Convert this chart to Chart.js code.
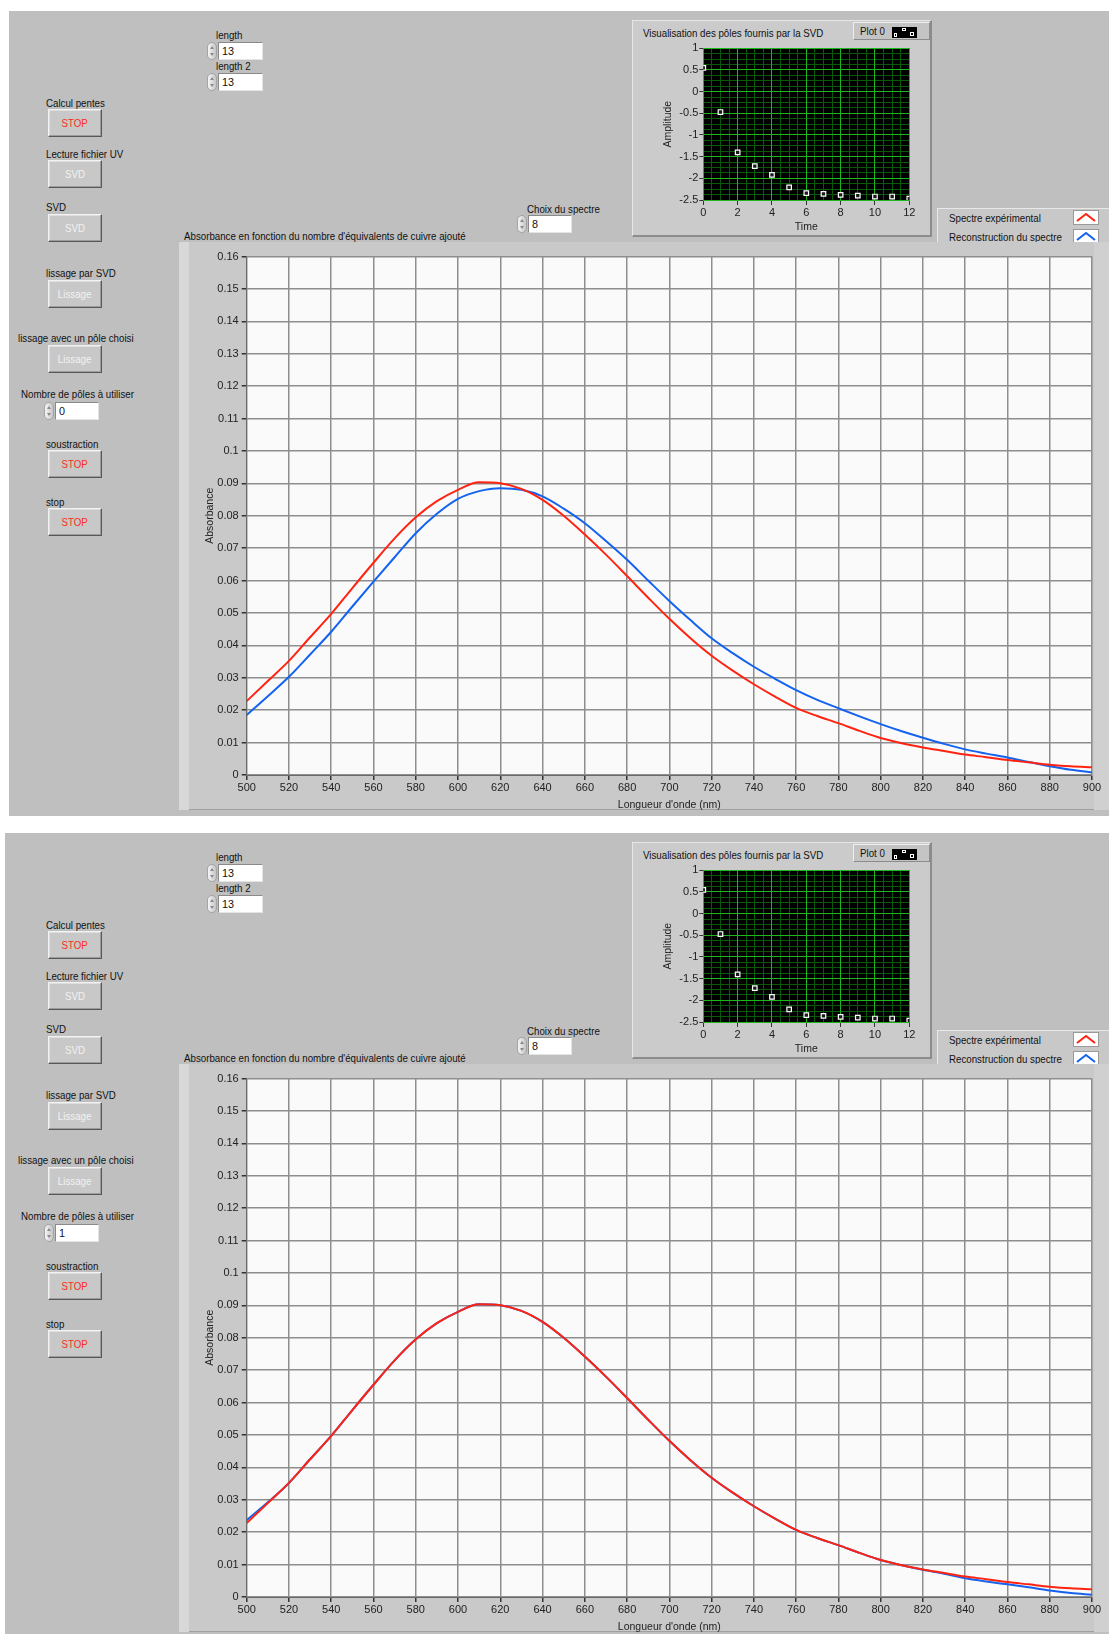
<!DOCTYPE html>
<html>
<head>
<meta charset="utf-8">
<title>SVD - spectres</title>
<script src="https://cdn.jsdelivr.net/npm/chart.js@4.4.1/dist/chart.umd.min.js"></script>
<style>
  body { margin:0; width:1109px; height:1636px; position:relative; overflow:hidden; background:#fff;
         font-family:'Liberation Sans', Arial, sans-serif; font-size:10.8px; color:#111; }
  .panel { position:absolute; background:#bfbfbf; }
  .lbl { position:absolute; white-space:nowrap; line-height:14px; transform:scaleX(0.9); transform-origin:0 50%; }
  .btn { position:absolute; width:52px; height:26px; background:#c8c8c8; border:1px solid;
         border-color:#f2f2f2 #585858 #585858 #f2f2f2; box-shadow:inset -1px -1px 0 #9c9c9c, inset 1px 1px 0 #dedede;
         text-align:center; line-height:26px; }
  .btn span { display:inline-block; transform:scaleX(0.9); }
  .btn.red { color:#ff2a1a; }
  .btn.off { color:#f2f2f2; }
  .spin { position:absolute; width:10px; height:18px; border-radius:5px; box-sizing:border-box;
          background:linear-gradient(90deg,#f6f6f6,#c4c4c4); border:1px solid #a4a4a4; }
  .spin:before, .spin:after { content:''; position:absolute; left:2px; border-left:2px solid transparent;
          border-right:2px solid transparent; }
  .spin:before { top:3px; border-bottom:3px solid #8a8a8a; }
  .spin:after { bottom:3px; border-top:3px solid #8a8a8a; }
  .num { position:absolute; height:18px; background:#fff; box-sizing:border-box; border:1px solid;
         border-color:#8a8a8a #e4e4e4 #e4e4e4 #8a8a8a; padding-left:3px; line-height:16px; }
  .frame { position:absolute; background:#c9c9c9; box-sizing:border-box; }
  canvas { position:absolute; }
</style>
</head>
<body>
<div id="root"></div>
<script>
// wavelengths (nm) and absorbances
const wavelengths = [500, 510, 520, 530, 540, 550, 560, 570, 580, 590,
                     600, 610, 620, 630, 640, 650, 660, 670, 680, 690,
                     700, 710, 720, 730, 740, 750, 760, 770, 780, 790,
                     800, 810, 820, 830, 840, 850, 860, 870, 880, 890, 900];
const experimental = [0.0228, 0.0290, 0.0352, 0.0425, 0.0497, 0.0577, 0.0655, 0.0730, 0.0795, 0.0845,
                      0.0880, 0.0903, 0.0900, 0.0883, 0.0849, 0.0800, 0.0742, 0.0680, 0.0614, 0.0547,
                      0.0482, 0.0422, 0.0368, 0.0322, 0.0280, 0.0242, 0.0207, 0.0182, 0.0160, 0.0136,
                      0.0114, 0.0098, 0.0085, 0.0074, 0.0063, 0.0055, 0.0046, 0.0039, 0.0032, 0.0027, 0.0024];
// reconstruction, 0 poles (upper screen)
const reconstruction0 = [0.0185, 0.0243, 0.0303, 0.0372, 0.0442, 0.0520, 0.0597, 0.0672, 0.0746, 0.0806,
                         0.0852, 0.0876, 0.0885, 0.0880, 0.0860, 0.0822, 0.0777, 0.0722, 0.0664, 0.0600,
                         0.0537, 0.0478, 0.0422, 0.0376, 0.0334, 0.0297, 0.0262, 0.0232, 0.0206, 0.0181,
                         0.0157, 0.0135, 0.0115, 0.0096, 0.0079, 0.0066, 0.0054, 0.0040, 0.0027, 0.0016, 0.0008];
// reconstruction, 1 pole (lower screen)
const reconstruction1 = [0.0237, 0.0292, 0.0352, 0.0425, 0.0497, 0.0577, 0.0655, 0.0730, 0.0795, 0.0845,
                         0.0880, 0.0903, 0.0900, 0.0883, 0.0849, 0.0800, 0.0742, 0.0680, 0.0614, 0.0547,
                         0.0482, 0.0422, 0.0368, 0.0322, 0.0280, 0.0242, 0.0207, 0.0182, 0.0160, 0.0136,
                         0.0114, 0.0098, 0.0084, 0.0072, 0.0058, 0.0048, 0.0039, 0.0030, 0.0020, 0.0012, 0.0007];
// poles given by the SVD
const poleTimes = [0, 1, 2, 3, 4, 5, 6, 7, 8, 9, 10, 11, 12];
const poleAmplitudes = [0.55, -0.47, -1.40, -1.72, -1.92, -2.21, -2.34, -2.36, -2.38, -2.40, -2.42, -2.42, -2.47];

const FONT = "'Liberation Sans', Arial, sans-serif";
const RED = '#ff2412';
const BLUE = '#1463f0';

function label(x, cy, text) {
  return `<div class="lbl" style="left:${x}px;top:${cy - 7}px">${text}</div>`;
}
function button(x, y, text, cls) {
  return `<div class="btn ${cls}" style="left:${x}px;top:${y}px"><span>${text}</span></div>`;
}
function numeric(x, y, w, value) {
  return `<div class="spin" style="left:${x - 11}px;top:${y}px"></div>` +
         `<div class="num" style="left:${x}px;top:${y}px;width:${w}px">${value}</div>`;
}
function chevron(color) {
  return `<svg width="26" height="15" style="position:absolute;left:0;top:0">
    <rect x="0.5" y="0.5" width="25" height="14" fill="#fff" stroke="#9a9a9a"/>
    <polyline points="4,11 13,4 22,11" fill="none" stroke="${color}" stroke-width="2"/></svg>`;
}

function panel(dy, left, height, poles) {
  let h = `<div class="panel" style="left:${left}px;top:${11 + dy}px;width:${1109 - left}px;height:${height}px"></div>`;
  h += label(216, 34.6 + dy, 'length') + numeric(218, 42 + dy, 45, '13');
  h += label(216, 66 + dy, 'length 2') + numeric(218, 73 + dy, 45, '13');
  h += label(46, 102.5 + dy, 'Calcul pentes') + button(48, 109 + dy, 'STOP', 'red');
  h += label(46, 153.6 + dy, 'Lecture fichier UV') + button(48, 160 + dy, 'SVD', 'off');
  h += label(46, 207 + dy, 'SVD') + button(48, 214 + dy, 'SVD', 'off');
  h += label(46, 273 + dy, 'lissage par SVD') + button(48, 280 + dy, 'Lissage', 'off');
  h += label(18, 338 + dy, 'lissage avec un pôle choisi') + button(48, 345 + dy, 'Lissage', 'off');
  h += label(20.5, 393.6 + dy, 'Nombre de pôles à utiliser') + numeric(55, 402 + dy, 44, poles);
  h += label(46, 443.6 + dy, 'soustraction') + button(48, 450 + dy, 'STOP', 'red');
  h += label(46, 501.8 + dy, 'stop') + button(48, 508 + dy, 'STOP', 'red');
  h += label(527, 209 + dy, 'Choix du spectre') + numeric(528, 215 + dy, 44, '8');

  // small graph frame
  h += `<div class="frame" style="left:632px;top:${20 + dy}px;width:300px;height:217px;background:#cbcbcb;
        border-top:1px solid #e6e6e6;border-left:1px solid #e6e6e6;border-right:2px solid #8c8c8c;border-bottom:2px solid #8c8c8c"></div>`;
  h += label(643, 33 + dy, 'Visualisation des pôles fournis par la SVD');
  h += `<div class="frame" style="left:853px;top:${22 + dy}px;width:77px;height:18px;background:#c4c4c4;
        border:1px solid;border-color:#eeeeee #8c8c8c #8c8c8c #eeeeee"></div>`;
  h += label(860, 31 + dy, 'Plot 0');
  h += `<svg width="25" height="11" style="position:absolute;left:892px;top:${27 + dy}px">
        <rect width="25" height="11" fill="#000"/>
        <rect x="2.5" y="6.5" width="2" height="3" fill="none" stroke="#fff"/>
        <rect x="10.5" y="1.5" width="3" height="2" fill="none" stroke="#fff"/>
        <rect x="18.5" y="5.5" width="3" height="3" fill="none" stroke="#fff"/></svg>`;
  h += `<canvas id="poles${dy}" width="290" height="195" style="left:640px;top:${40 + dy}px"></canvas>`;

  // legend
  h += `<div class="frame" style="left:937px;top:${208 + dy}px;width:172px;height:37px;background:#c8c8c8;
        border-top:1px solid #e8e8e8;border-left:1px solid #e8e8e8"></div>`;
  h += label(949, 217.7 + dy, 'Spectre expérimental');
  h += label(949, 237 + dy, 'Reconstruction du spectre');
  h += `<div style="position:absolute;left:1073px;top:${210 + dy}px">${chevron(RED)}</div>`;
  h += `<div style="position:absolute;left:1073px;top:${229 + dy}px">${chevron(BLUE)}</div>`;

  // main graph
  h += label(184, 236 + dy, "Absorbance en fonction du nombre d'équivalents de cuivre ajouté");
  h += `<div class="frame" style="left:179px;top:${242 + dy}px;width:930px;height:568px;border-bottom:1px solid #a0a0a0"></div>`;
  h += `<div class="frame" style="left:179px;top:${242 + dy}px;width:10px;height:568px;background:#d8d8d8"></div>`;
  h += `<div class="frame" style="left:1094px;top:${242 + dy}px;width:15px;height:568px;background:#d0d0d0"></div>`;
  h += `<canvas id="main${dy}" width="919" height="577" style="left:190px;top:${243 + dy}px"></canvas>`;
  return h;
}

const plotBackground = color => ({
  id: 'plotBackground',
  beforeDraw(chart) {
    const a = chart.chartArea;
    chart.ctx.save();
    chart.ctx.fillStyle = color;
    chart.ctx.fillRect(a.left, a.top, a.right - a.left, a.bottom - a.top);
    chart.ctx.restore();
  }
});

function toPoints(values) {
  return wavelengths.map((w, i) => ({ x: w, y: values[i] }));
}

function mainChart(id, blue) {
  const ctx = document.getElementById(id).getContext('2d');
  new Chart(ctx, {
    type: 'line',
    data: {
      datasets: [
        { label: 'Spectre expérimental', data: toPoints(experimental), borderColor: RED },
        { label: 'Reconstruction du spectre', data: toPoints(blue), borderColor: BLUE },
      ],
    },
    options: {
      responsive: false,
      animation: false,
      layout: { padding: { left: 0, right: 17, top: 13.5, bottom: 0 } },
      elements: {
        point: { radius: 0 },
        line: { borderWidth: 2, cubicInterpolationMode: 'monotone' },
      },
      plugins: { legend: { display: false }, tooltip: { enabled: false } },
      scales: {
        x: {
          type: 'linear', min: 500, max: 900,
          ticks: { stepSize: 20, color: '#222', maxRotation: 0, autoSkip: false, padding: 1,
                   font: { family: FONT, size: 11 } },
          grid: { color: '#8e8e8e', lineWidth: 1.5, tickLength: 5, tickColor: '#333' },
          border: { color: '#6a6a6a' },
          title: { display: true, text: "Longueur d'onde (nm)", color: '#222',
                   font: { family: FONT, size: 10.5 }, padding: { top: 0, bottom: 9 } },
          afterFit: s => { s.height = 45; },
        },
        y: {
          min: 0, max: 0.16,
          ticks: { stepSize: 0.01, color: '#222', padding: 3, font: { family: FONT, size: 11 },
                   callback: v => String(+v.toFixed(2)) },
          grid: { color: '#8e8e8e', lineWidth: 1.5, tickLength: 5, tickColor: '#333' },
          border: { color: '#6a6a6a' },
          title: { display: true, text: 'Absorbance', color: '#222',
                   font: { family: FONT, size: 10.5 }, padding: { top: 13.7, bottom: 0 } },
          afterFit: s => { s.width = 56.7; },
        },
      },
    },
    plugins: [plotBackground('#fafafa')],
  });
}

function polesChart(id) {
  const ctx = document.getElementById(id).getContext('2d');
  new Chart(ctx, {
    type: 'scatter',
    data: {
      datasets: [{
        data: poleTimes.map((t, i) => ({ x: t, y: poleAmplitudes[i] })),
        pointStyle: 'rect', pointRadius: 3.2, borderWidth: 1.2,
        borderColor: '#ffffff', backgroundColor: '#1a1a1a',
      }],
    },
    options: {
      responsive: false,
      animation: false,
      layout: { padding: { left: 0, right: 20.7, top: 8.3, bottom: 0 } },
      plugins: { legend: { display: false }, tooltip: { enabled: false } },
      scales: {
        xm: {
          type: 'linear', position: 'bottom', min: 0, max: 12, z: -1,
          ticks: { display: false, stepSize: 0.5 },
          grid: { color: '#0b5a0b', drawTicks: false }, border: { display: false },
          afterFit: s => { s.height = 0; },
        },
        ym: {
          type: 'linear', position: 'left', min: -2.5, max: 1, z: -1,
          ticks: { display: false, stepSize: 0.125 },
          grid: { color: '#0b5a0b', drawTicks: false }, border: { display: false },
          afterFit: s => { s.width = 0; },
        },
        x: {
          type: 'linear', min: 0, max: 12,
          ticks: { stepSize: 2, color: '#222', padding: 1, maxRotation: 0, font: { family: FONT, size: 11 } },
          grid: { color: '#1fb51f', tickLength: 5, tickColor: '#333' },
          border: { color: '#1fb51f' },
          title: { display: true, text: 'Time', color: '#222', font: { family: FONT, size: 10.5 },
                   padding: { top: 0, bottom: 2 } },
          afterFit: s => { s.height = 35; },
        },
        y: {
          min: -2.5, max: 1,
          ticks: { stepSize: 0.5, color: '#222', padding: 1, font: { family: FONT, size: 11 },
                   callback: v => String(+v.toFixed(1)) },
          grid: { color: '#1fb51f', tickLength: 4, tickColor: '#333' },
          border: { color: '#1fb51f' },
          title: { display: true, text: 'Amplitude', color: '#222', font: { family: FONT, size: 10.5 },
                   padding: { top: 21.7, bottom: 0 } },
          afterFit: s => { s.width = 63.3; },
        },
      },
    },
    plugins: [plotBackground('#000000')],
  });
}

document.getElementById('root').innerHTML =
  panel(0, 9, 805, '0') + panel(822, 5, 801, '1');

mainChart('main0', reconstruction0);
polesChart('poles0');
mainChart('main822', reconstruction1);
polesChart('poles822');
</script>
</body>
</html>
